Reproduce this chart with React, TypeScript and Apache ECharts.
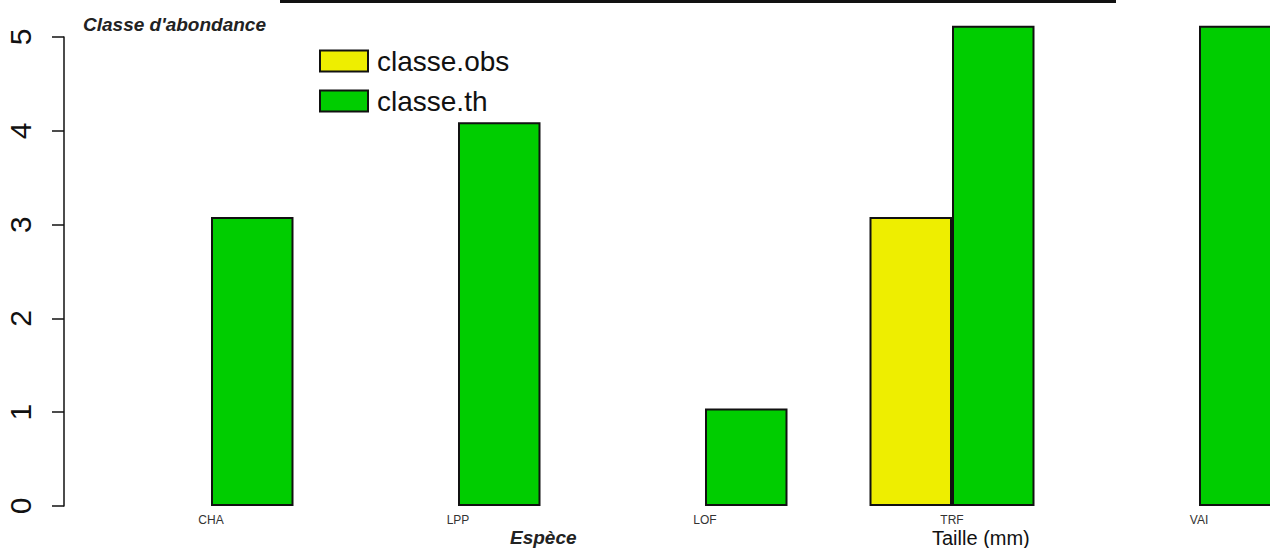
import React, { useEffect, useRef } from "react";
import * as echarts from "echarts";

const categories = ["CHA", "LPP", "LOF", "TRF", "VAI"];
const classeObs = [0, 0, 0, 3.08, 0];
const classeTh = [3.08, 4.09, 1.04, 5.12, 5.12];
const yTicks = [0, 1, 2, 3, 4, 5];
const chartTitle = "Classe d'abondance";
const xTitle = "Espèce";
const xTitle2 = "Taille (mm)";
const seriesNames = ["classe.obs", "classe.th"];

const FONT = "'Liberation Sans', Arial, sans-serif";

export default function App() {
  const ref = useRef<HTMLDivElement>(null);
  useEffect(() => {
    if (!ref.current) return;
    const chart = echarts.init(ref.current, null, { renderer: "svg" });
    const legendBase = {
      orient: "vertical",
      left: 319,
      padding: 0,
      itemWidth: 48,
      itemHeight: 21,
      icon: "rect",
      textStyle: { fontFamily: FONT, fontSize: 28, color: "#111", padding: [0, 0, 0, 4] },
    };
    chart.setOption({
      animation: false,
      backgroundColor: "#ffffff",
      textStyle: { fontFamily: FONT },
      title: {
        text: chartTitle,
        left: 78,
        top: 10,
        textStyle: { fontFamily: FONT, fontSize: 19, fontWeight: "bold", fontStyle: "italic", color: "#222" },
      },
      legend: [
        { ...legendBase, top: 47, data: [seriesNames[0]] },
        { ...legendBase, top: 87, data: [seriesNames[1]] },
      ],
      grid: { left: 87.5, right: 7.5, top: 37, bottom: 42 },
      xAxis: {
        type: "category",
        data: categories,
        axisLine: { show: false },
        axisTick: { show: false },
        axisLabel: { fontFamily: FONT, fontSize: 12, color: "#333", margin: 8 },
      },
      yAxis: {
        type: "value",
        min: yTicks[0],
        max: yTicks[yTicks.length - 1],
        interval: 1,
        offset: 23.5,
        splitLine: { show: false },
        axisLine: { show: true, lineStyle: { color: "#111", width: 1.5 } },
        axisTick: { show: true, length: 12, lineStyle: { color: "#111", width: 1.5 } },
        axisLabel: { rotate: 90, fontFamily: FONT, fontSize: 30, color: "#111", margin: 29 },
      },
      series: [
        {
          name: seriesNames[0],
          type: "bar",
          clip: false,
          barWidth: 82.5,
          barGap: "0%",
          data: classeObs.map((v) => (v === 0 ? null : v)),
          itemStyle: { color: "#EEEE00", borderColor: "#111", borderWidth: 2 },
        },
        {
          name: seriesNames[1],
          type: "bar",
          clip: false,
          barWidth: 82.5,
          barGap: "0%",
          data: classeTh.map((v) => (v === 0 ? null : v)),
          itemStyle: { color: "#00CD00", borderColor: "#111", borderWidth: 2 },
        },
      ],
      graphic: [
        { type: "rect", shape: { x: 280, y: 0, width: 836, height: 3 }, style: { fill: "#111" } },
        {
          type: "text",
          x: 510,
          y: 528,
          style: { text: xTitle, font: `italic bold 19px ${FONT}`, fill: "#222" },
        },
        {
          type: "text",
          x: 932,
          y: 528,
          style: { text: xTitle2, font: `20px ${FONT}`, fill: "#111" },
        },
      ],
    });
    return () => chart.dispose();
  }, []);
  return (
    <div style={{ position: "fixed", left: 0, top: 0, width: 1270, height: 548, overflow: "hidden", background: "#fff" }}>
      <div ref={ref} style={{ width: 1330, height: 548 }} />
    </div>
  );
}
